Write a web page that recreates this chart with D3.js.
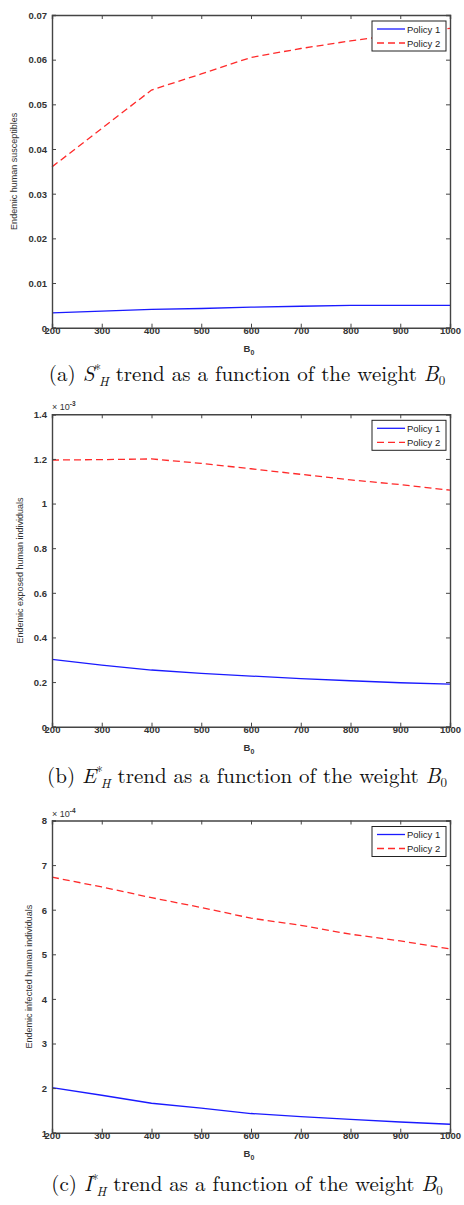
<!DOCTYPE html>
<html>
<head>
<meta charset="utf-8">
<script src="https://cdn.jsdelivr.net/npm/d3@7"></script>
<style>
  html, body { margin: 0; padding: 0; background: #fff; }
  svg { display: block; }
  .tick text { font-family: "Liberation Sans", Arial, sans-serif; font-size: 9.5px; font-weight: bold; fill: #333; }
  .ylab { font-family: "Liberation Sans", Arial, sans-serif; font-size: 9px; fill: #333; }
  .xlab { font-family: "Liberation Sans", Arial, sans-serif; font-size: 9.5px; font-weight: bold; fill: #333; }
  .leg { font-family: "Liberation Sans", Arial, sans-serif; font-size: 9.5px; fill: #222; }
  .cap { font-family: "Latin Modern Roman", "DejaVu Serif", "Liberation Serif", serif; font-size: 21px; fill: #111; }
</style>
</head>
<body>
<svg id="fig" width="464" height="1205"></svg>
<script>
// Weight B0 values at which the endemic equilibria were evaluated
const weights = [200, 300, 400, 500, 600, 700, 800, 900, 1000];
const xTicks = [200, 300, 400, 500, 600, 700, 800, 900, 1000];

// (a) endemic human susceptibles
const suscPolicy1 = [0.0033, 0.0037, 0.0041, 0.0043, 0.0046, 0.0048, 0.0050, 0.0050, 0.0050];
const suscPolicy2 = [0.0360, 0.0446, 0.0532, 0.0568, 0.0605, 0.0625, 0.0642, 0.0657, 0.0670];
const suscTicks = [0, 0.01, 0.02, 0.03, 0.04, 0.05, 0.06, 0.07];

// (b) endemic exposed humans, in units of 1e-3
const expPolicy1 = [0.302, 0.276, 0.254, 0.239, 0.227, 0.215, 0.206, 0.197, 0.191];
const expPolicy2 = [1.195, 1.197, 1.200, 1.180, 1.156, 1.131, 1.106, 1.085, 1.060];
const expTicks = [0, 0.2, 0.4, 0.6, 0.8, 1, 1.2, 1.4];

// (c) endemic infected humans, in units of 1e-4
const infPolicy1 = [2.01, 1.84, 1.66, 1.55, 1.43, 1.36, 1.30, 1.24, 1.19];
const infPolicy2 = [6.73, 6.51, 6.27, 6.05, 5.81, 5.65, 5.45, 5.30, 5.12];
const infTicks = [1, 2, 3, 4, 5, 6, 7, 8];

const seriesNames = ["Policy 1", "Policy 2"];

const svg = d3.select("#fig");
const axisColor = "#444";

function panel(opts) {
  const { top, bottom, yDomain, yTicks, yFmt, p1, p2, ylabel, ylabX, exponent, caption, letter, capY } = opts;
  const left = 52, right = 450;
  const x = d3.scaleLinear().domain([200, 1000]).range([left, right]);
  const y = d3.scaleLinear().domain(yDomain).range([bottom, top]);
  const g = svg.append("g");

  // data lines
  const line = d3.line().x((d, i) => x(weights[i])).y(d => y(d));
  g.append("path").datum(p2).attr("d", line)
    .attr("fill", "none").attr("stroke", "#ff2a2a").attr("stroke-width", 1.3)
    .attr("stroke-dasharray", "7,4");
  g.append("path").datum(p1).attr("d", line)
    .attr("fill", "none").attr("stroke", "#1a1aff").attr("stroke-width", 1.3);

  // axes with inward ticks on all four sides
  const bottomAxis = d3.axisBottom(x).tickValues(xTicks).tickSize(-4).tickPadding(2).tickFormat(d3.format("d"));
  const topAxis = d3.axisTop(x).tickValues(xTicks).tickSize(-4).tickFormat("");
  const leftAxis = d3.axisLeft(y).tickValues(yTicks).tickSize(-4).tickPadding(5).tickFormat(yFmt);
  const rightAxis = d3.axisRight(y).tickValues(yTicks).tickSize(-4).tickFormat("");

  const ax = [
    g.append("g").attr("transform", `translate(0,${bottom})`).call(bottomAxis),
    g.append("g").attr("transform", `translate(0,${top})`).call(topAxis),
    g.append("g").attr("transform", `translate(${left},0)`).call(leftAxis),
    g.append("g").attr("transform", `translate(${right},0)`).call(rightAxis)
  ];
  ax.forEach(a => {
    a.select(".domain").attr("stroke", axisColor).attr("stroke-width", 1.4);
    a.selectAll(".tick line").attr("stroke", axisColor).attr("stroke-width", 1);
  });
  ax[0].selectAll(".tick text").attr("dy", "0.5em");
  ax[2].selectAll(".tick text").attr("dy", "0.35em");

  // exponent multiplier above the y axis
  if (exponent) {
    const t = g.append("text").attr("class", "ylab").attr("x", left).attr("y", top - 4);
    t.append("tspan").text("\u00d7 10");
    t.append("tspan").attr("dy", -4).attr("font-size", "6.5px").attr("font-weight", "bold").text(exponent);
  }

  // axis titles
  g.append("text").attr("class", "ylab")
    .attr("transform", `translate(${ylabX},${(top + bottom) / 2}) rotate(-90)`)
    .attr("text-anchor", "middle").text(ylabel);
  const xl = g.append("text").attr("class", "xlab")
    .attr("x", (left + right) / 2 - 2).attr("y", bottom + 24).attr("text-anchor", "middle");
  xl.append("tspan").text("B");
  xl.append("tspan").attr("dy", 3).attr("font-size", "7px").text("0");

  // legend
  const lx = 372, ly = top + 6, lw = 74, lh = 30;
  const lg = g.append("g");
  lg.append("rect").attr("x", lx).attr("y", ly).attr("width", lw).attr("height", lh)
    .attr("fill", "#fff").attr("stroke", "#222").attr("stroke-width", 1);
  const legColors = ["#1a1aff", "#ff2a2a"];
  const legDash = [null, "7,4"];
  seriesNames.forEach((name, i) => {
    const yy = ly + 8 + i * 14;
    lg.append("line").attr("x1", lx + 5).attr("x2", lx + 33).attr("y1", yy).attr("y2", yy)
      .attr("stroke", legColors[i]).attr("stroke-width", 1.3)
      .attr("stroke-dasharray", legDash[i]);
    lg.append("text").attr("class", "leg").attr("x", lx + 35).attr("y", yy + 3.5).text(name);
  });

  // caption
  const cap = svg.append("text").attr("class", "cap")
    .attr("x", 247).attr("y", capY).attr("text-anchor", "middle");
  cap.append("tspan").text(`(${letter}) `);
  cap.append("tspan").attr("font-style", "italic").text(caption);
  cap.append("tspan").attr("dy", -7).attr("font-size", "13px").text("*");
  cap.append("tspan").attr("dy", 12).attr("dx", -2).attr("font-size", "13px").attr("font-style", "italic").text("H");
  cap.append("tspan").attr("dy", -5).text(" trend as a function of the weight ");
  cap.append("tspan").attr("font-style", "italic").text("B");
  cap.append("tspan").attr("dy", 4).attr("font-size", "13px").text("0");
}

panel({
  top: 15, bottom: 327.7, yDomain: [0, 0.07], yTicks: suscTicks,
  yFmt: d => d === 0 ? "0" : d3.format(".2f")(d),
  p1: suscPolicy1, p2: suscPolicy2,
  ylabel: "Endemic human susceptibles", ylabX: 17, exponent: null,
  caption: "S", letter: "a", capY: 381
});

panel({
  top: 414.3, bottom: 726.7, yDomain: [0, 1.4], yTicks: expTicks,
  yFmt: d => d3.format("~g")(d),
  p1: expPolicy1, p2: expPolicy2,
  ylabel: "Endemic exposed human individuals", ylabX: 23, exponent: "-3",
  caption: "E", letter: "b", capY: 783
});

panel({
  top: 820.5, bottom: 1132.7, yDomain: [1, 8], yTicks: infTicks,
  yFmt: d => d3.format("d")(d),
  p1: infPolicy1, p2: infPolicy2,
  ylabel: "Endemic infected human individuals", ylabX: 32, exponent: "-4",
  caption: "I", letter: "c", capY: 1191
});
</script>
</body>
</html>
